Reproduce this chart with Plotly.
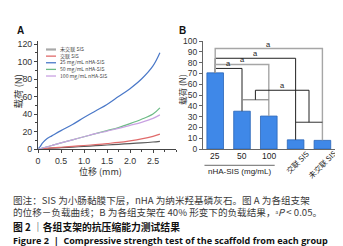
import plotly.graph_objects as go

W, H = 343, 246

# ---------------- Panel A data (displacement vs load) ----------------
disp = [0, 0.05, 0.1, 0.2, 0.3, 0.5, 0.75, 1.0, 1.25, 1.5, 1.75, 2.0, 2.25, 2.5, 2.65]
load_uncross = [0, 0.15, 0.3, 0.6, 0.9, 1.5, 2.2, 3.0, 3.8, 4.6, 5.4, 6.2, 7.0, 8.0, 8.8]
load_cross = [0, 0.2, 0.4, 0.8, 1.2, 2.0, 3.0, 4.0, 5.0, 6.2, 7.5, 9.3, 11.5, 14.5, 17.0]
load_25 = [0, 3, 7, 12, 15, 21, 28, 36, 43.5, 51, 60, 69, 80, 95, 110]
load_50 = [0, 0.5, 1.2, 2.5, 4, 7, 10.5, 14, 17.5, 21, 24.5, 29, 34, 40, 47]
load_100 = [0, 0.5, 1.2, 2.5, 4, 7, 10.5, 14, 17.5, 20.5, 23.5, 27, 30.5, 35, 39]

series_names = ["未交联 SIS", "交联 SIS", "25 mg/mL nHA-SIS", "50 mg/mL nHA-SIS", "100 mg/mL nHA-SIS"]
series_vals = [load_uncross, load_cross, load_25, load_50, load_100]
series_colors = ["#5a5a5a", "#e06a6a", "#4a78c8", "#6dbb86", "#c9a2e2"]
legend_colors = ["#a8a8a8", "#e06a6a", "#4a78c8", "#6dbb86", "#c9a2e2"]

a_xticks = [0, 0.5, 1.0, 1.5, 2.0, 2.5]
a_xticktext = ["0", "0.5", "1.0", "1.5", "2.0", "2.5"]
a_yticks = [0, 20, 40, 60, 80, 100, 120]

# ---------------- Panel B data (load at 40% strain) ----------------
groups = ["25", "50", "100", "交联 SIS", "未交联 SIS"]
loads_b = [70.5, 35.0, 30.5, 8.5, 8.0]
b_yticks = list(range(0, 101, 10))
# significance brackets: (index i, index j, level, colour, label)
pair_brackets = [
    (0, 3, 84.0, "#222222", "a"),
    (0, 1, 74.6, "#222222", "a"),
    (0, 4, 93.0, "#a6a6a6", "a"),
    (0, 2, 78.3, "#a6a6a6", "a"),
]
# grouped comparison: group (1,2) vs group (3,4)
group_left = (1, 2, 45.6)
group_right = (3, 4, 24.8)
group_top = 54.4

fig = go.Figure()

# ---- Panel A traces
for name, vals, col in zip(series_names, series_vals, series_colors):
    fig.add_trace(go.Scatter(x=disp, y=vals, mode="lines", name=name,
                             line=dict(color=col, width=1.2, shape="spline"),
                             xaxis="x", yaxis="y", showlegend=False))

# ---- Panel B bars
fig.add_trace(go.Bar(x=list(range(len(groups))), y=loads_b, width=0.62,
                     marker=dict(color="#3f88e8", line=dict(color="#2a64b8", width=0.8)),
                     xaxis="x2", yaxis="y2", showlegend=False))

def py(p):
    return 1 - p / H

def px(p):
    return p / W

tickfont = dict(family="Liberation Sans, Arial", size=8.8, color="#333")
fig.update_layout(
    width=W, height=H, margin=dict(l=0, r=0, t=0, b=0, autoexpand=False),
    paper_bgcolor="white", plot_bgcolor="white",
    xaxis=dict(domain=[px(30), px(168)], range=[0, 3.0], tickvals=a_xticks, ticktext=a_xticktext,
               showline=True, linecolor="#444", linewidth=1, ticks="outside", ticklen=3,
               tickcolor="#444", showgrid=False, zeroline=False, tickfont=tickfont, automargin=False,
               minor=dict(ticks="outside", ticklen=2, dtick=0.25, tickcolor="#444"), anchor="y"),
    yaxis=dict(domain=[py(141), py(33)], range=[0, 123.5], tickvals=a_yticks,
               showline=True, linecolor="#444", linewidth=1, ticks="outside", ticklen=3,
               tickcolor="#444", showgrid=False, zeroline=False, tickfont=tickfont, automargin=False,
               minor=dict(ticks="outside", ticklen=2, dtick=10, tickcolor="#444"), anchor="x"),
    xaxis2=dict(domain=[px(195), px(338)], range=[-0.455, 4.88], showticklabels=False,
                showline=True, linecolor="#666", linewidth=1, ticks="", showgrid=False,
                zeroline=False, anchor="y2", automargin=False),
    yaxis2=dict(domain=[py(141), py(33)], range=[0, 100], tickvals=b_yticks,
                showline=True, linecolor="#666", linewidth=1, ticks="outside", ticklen=3,
                tickcolor="#666", showgrid=False, zeroline=False, automargin=False,
                tickfont=dict(family="Liberation Sans, Arial", size=8.5, color="#333"), anchor="x2"),
    font=dict(family="Noto Sans CJK SC"),
)

shapes = []
ann = []

def note(text, x, y, xref="paper", yref="paper", xanchor="center", yanchor="middle", **kw):
    d = dict(text=text, xref=xref, yref=yref, x=x, y=y, xanchor=xanchor, yanchor=yanchor,
             showarrow=False)
    d.update(kw)
    ann.append(d)

# ---- Panel A manual legend (one multi-line text block + line swatches)
leg_step = 6.63
for i, col in enumerate(legend_colors):
    yy = py(41.5 + leg_step * i)
    shapes.append(dict(type="line", xref="paper", yref="paper", x0=px(38), x1=px(48), y0=yy, y1=yy,
                       line=dict(color=col, width=2.2 if i == 0 else 1.3)))
note("<br>".join(series_names), px(50.5), py(41.5 + 2 * leg_step), xanchor="left", align="left",
     borderpad=0, font=dict(family="Noto Sans CJK SC", size=5.1, color="#444"))

# ---- Panel labels and titles
note("<b>A</b>", px(12), py(22.5), font=dict(family="Liberation Sans", size=10, color="#111"))
note("<b>B</b>", px(174), py(22.5), font=dict(family="Liberation Sans", size=10, color="#111"))
note("载荷 (N)", px(9.5), py(84), textangle=-90,
     font=dict(family="Noto Sans CJK SC", size=9.5, color="#333"))
note("位移 (mm)", px(92), py(163.5), borderpad=0,
     font=dict(family="Noto Sans CJK SC", size=9, color="#333"))
note("载荷 (N)", px(174), py(82), textangle=-90,
     font=dict(family="Noto Sans CJK SC", size=8.5, color="#333"))

# ---- Panel B category labels
catfont = dict(family="Liberation Sans, Arial", size=8.5, color="#222")
for i in range(3):
    note(groups[i], i, py(148), xref="x2", font=catfont)
note("nHA-SIS (mg/mL)", 0.9, py(163.5), xref="x2",
     font=dict(family="Liberation Sans, Arial", size=8, color="#222"))
shapes.append(dict(type="line", xref="x2", yref="paper", x0=-0.4, x1=2.22, y0=py(157.3), y1=py(157.3),
                   line=dict(color="#444", width=0.8)))
note(groups[3], 3.07, py(153.5), xref="x2", textangle=-45,
     font=dict(family="Noto Sans CJK SC", size=7.5, color="#222"))
note(groups[4], 4.0, py(155.5), xref="x2", textangle=-45,
     font=dict(family="Noto Sans CJK SC", size=7.5, color="#222"))

# ---- Panel B significance brackets
afont = dict(family="Liberation Sans, Arial", size=7.5, color="#222")
for (i, j, lvl, col, lab) in pair_brackets:
    path = f"M {i},{loads_b[i]} L {i},{lvl} L {j},{lvl} L {j},{loads_b[j]}"
    shapes.append(dict(type="path", xref="x2", yref="y2", path=path,
                       line=dict(color=col, width=1.0 if col == "#222222" else 1.4)))
    note(lab, (i + j) / 2, lvl, xref="x2", yref="y2", yanchor="bottom", yshift=-2, font=afont)
li, lj, llvl = group_left
ri, rj, rlvl = group_right
shapes.append(dict(type="line", xref="x2", yref="y2", x0=li, x1=lj, y0=llvl, y1=llvl,
                   line=dict(color="#888888", width=1.2)))
shapes.append(dict(type="line", xref="x2", yref="y2", x0=ri, x1=rj, y0=rlvl, y1=rlvl,
                   line=dict(color="#333333", width=1.0)))
lm, rm = (li + lj) / 2, (ri + rj) / 2
shapes.append(dict(type="path", xref="x2", yref="y2",
                   path=f"M {lm},{llvl} L {lm},{group_top} L {rm},{group_top} L {rm},{rlvl}",
                   line=dict(color="#222222", width=1.0)))
note("a", (lm + rm) / 2, group_top, xref="x2", yref="y2", yanchor="bottom", yshift=-2, font=afont)

# ---- Caption
capfont = dict(family="Noto Sans CJK SC", size=9.6, color="#3a3a3a")
note("图注：SIS 为小肠黏膜下层，nHA 为纳米羟基磷灰石。图 A 为各组支架<br>"
     "的位移－负载曲线；B 为各组支架在 40% 形变下的负载结果，ᵃ<i>P</i> < 0.05。",
     px(4), py(197.8), xanchor="left", align="left", borderpad=0, font=capfont)
note("<b>图 2</b> ｜<b>各组支架的抗压缩能力测试结果</b>", px(4), py(218.5), xanchor="left",
     borderpad=0, font=dict(family="Noto Sans CJK SC", size=9.8, color="#111"))
note("<b>Figure 2  |  Compressive strength test of the scaffold from each group</b>",
     px(4), py(232), xanchor="left", borderpad=0, font=dict(family="Open Sans", size=9.1, color="#111"))

fig.update_layout(shapes=shapes, annotations=ann)
fig.write_html("out.html")
